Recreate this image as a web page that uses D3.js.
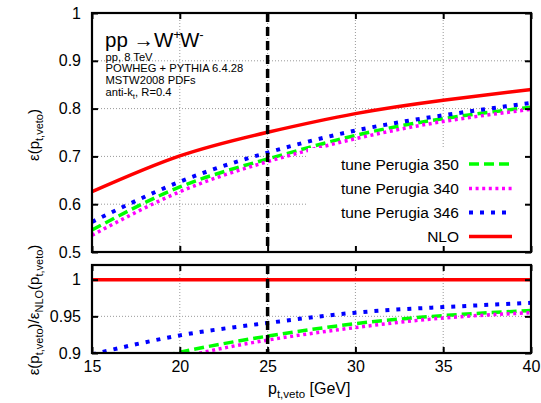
<!DOCTYPE html>
<html><head><meta charset="utf-8">
<script src="https://cdn.jsdelivr.net/npm/d3@7"></script>
<style>
body{margin:0;background:#fff;}
svg{display:block;font-family:"Liberation Sans",Arial,sans-serif;}
</style></head>
<body><svg id="c" width="541" height="403"></svg>
<script>
// ---- data ----
const ptVeto = [15, 20, 25, 30, 35, 40];
const effNLO = [0.626, 0.701, 0.7505, 0.7895, 0.8175, 0.840];
const eff346 = [0.563, 0.647, 0.708, 0.754, 0.786, 0.812];
const eff350 = [0.546, 0.636, 0.6945, 0.744, 0.779, 0.803];
const eff340 = [0.535, 0.626, 0.689, 0.737, 0.773, 0.7985];
const ratioNLO = [1, 1, 1, 1, 1, 1];
const ratio346 = [0.898, 0.924, 0.941, 0.955, 0.9626, 0.9685];
const ratio350 = [0.872, 0.901, 0.923, 0.940, 0.951, 0.958];
const ratio340 = [0.855, 0.893, 0.9176, 0.9347, 0.9477, 0.955];
const xTicks = [15, 20, 25, 30, 35, 40];
const yTicksTop = [0.5, 0.6, 0.7, 0.8, 0.9, 1];
const yTicksBot = [0.9, 0.95, 1];
const vetoCut = 25;
const seriesNames = ["tune Perugia 350", "tune Perugia 340", "tune Perugia 346", "NLO"];

const svg = d3.select("#c");
const L = 92, R = 531;
const x = d3.scaleLinear().domain([15, 40]).range([L, R]);
const yT = d3.scaleLinear().domain([0.5, 1]).range([252, 13]);
const yB = d3.scaleLinear().domain([0.9, 1.02]).range([353, 265]);

const styles = [
  {name: seriesNames[0], top: eff350, bot: ratio350, color: "#00ff00", w: 3.5, dash: "10,5"},
  {name: seriesNames[1], top: eff340, bot: ratio340, color: "#ff00ff", w: 3.5, dash: "3,3.6"},
  {name: seriesNames[2], top: eff346, bot: ratio346, color: "#0000ff", w: 4, dash: "4,7"},
  {name: seriesNames[3], top: effNLO, bot: ratioNLO, color: "#ff0000", w: 3.5, dash: null}
];

const defs = svg.append("defs");
defs.append("clipPath").attr("id","clipT").append("rect")
  .attr("x", L).attr("y", yT(1)).attr("width", R-L).attr("height", yT(0.5)-yT(1));
defs.append("clipPath").attr("id","clipB").append("rect")
  .attr("x", L).attr("y", yB(1.02)).attr("width", R-L).attr("height", yB(0.9)-yB(1.02));

function panel(y, yTicks, clip, key) {
  const g = svg.append("g");
  const y0 = y.range()[0], y1 = y.range()[1];
  const gx = xTicks.filter(t => t > 15 && t < 40);
  g.selectAll(null).data(gx).enter().append("line")
    .attr("x1", d => x(d)).attr("x2", d => x(d)).attr("y1", y0).attr("y2", y1)
    .attr("stroke", "#999").attr("stroke-width", 1).attr("stroke-dasharray", "1,2");
  const gy = yTicks.filter(t => y(t) < y0 - 1 && y(t) > y1 + 1);
  g.selectAll(null).data(gy).enter().append("line")
    .attr("x1", L).attr("x2", R).attr("y1", d => y(d)).attr("y2", d => y(d))
    .attr("stroke", "#999").attr("stroke-width", 1).attr("stroke-dasharray", "1,2");
  const cg = g.append("g").attr("clip-path", `url(#${clip})`);
  styles.forEach(s => {
    const line = d3.line().x((d, i) => x(ptVeto[i])).y(d => y(d)).curve(d3.curveNatural);
    cg.append("path").attr("d", line(s[key])).attr("fill", "none")
      .attr("stroke", s.color).attr("stroke-width", s.w)
      .attr("stroke-dasharray", s.dash);
  });
  return g;
}

panel(yT, yTicksTop, "clipT", "top");
panel(yB, yTicksBot, "clipB", "bot");

// legend (opaque box)
const legG = svg.append("g");
legG.append("rect").attr("x", 308).attr("y", 148).attr("width", R - 308).attr("height", 252 - 148).attr("fill", "#fff");
const legY = [164, 188.5, 212.5, 236.5];
styles.forEach((s, i) => {
  legG.append("text").attr("x", 459).attr("y", legY[i] + 5.5).attr("text-anchor", "end")
    .attr("font-size", 15.5).text(s.name);
  legG.append("line").attr("x1", 469).attr("x2", 512).attr("y1", legY[i]).attr("y2", legY[i])
    .attr("stroke", s.color).attr("stroke-width", s.w).attr("stroke-dasharray", s.dash);
});

// veto line
[[13, 252], [265, 353]].forEach(([a, b]) => {
  svg.append("line").attr("x1", x(vetoCut)).attr("x2", x(vetoCut)).attr("y1", a).attr("y2", b)
    .attr("stroke", "#000").attr("stroke-width", 3.5).attr("stroke-dasharray", "9,5");
});

// axes with inward ticks on all sides
function frame(y, yTicks, showX) {
  const y0 = y.range()[0], y1 = y.range()[1];
  const tk = 6;
  const g = svg.append("g");
  const fmt = d => d3.format("")(d);
  const gl = g.append("g").attr("transform", `translate(${L},0)`)
    .call(d3.axisLeft(y).tickValues(yTicks).tickSize(-tk).tickPadding(tk + 5).tickFormat(fmt));
  const gr = g.append("g").attr("transform", `translate(${R},0)`)
    .call(d3.axisRight(y).tickValues(yTicks).tickSize(-tk).tickFormat(""));
  const gb = g.append("g").attr("transform", `translate(0,${y0})`)
    .call(d3.axisBottom(x).tickValues(xTicks).tickSize(-tk).tickPadding(tk + 2).tickFormat(showX ? d3.format("d") : ""));
  const gt = g.append("g").attr("transform", `translate(0,${y1})`)
    .call(d3.axisTop(x).tickValues(xTicks).tickSize(-tk).tickFormat(""));
  [gl, gr, gb, gt].forEach(a => {
    a.select(".domain").remove();
    a.selectAll(".tick line").attr("stroke", "#000").attr("stroke-width", 2);
    a.selectAll(".tick text").attr("font-size", 16).attr("fill", "#000")
      .attr("font-family", "Liberation Sans, Arial, sans-serif");
  });
  g.append("rect").attr("x", L).attr("y", y1).attr("width", R - L).attr("height", y0 - y1)
    .attr("fill", "none").attr("stroke", "#000").attr("stroke-width", 2.2);
  return g;
}
frame(yT, yTicksTop, false);
frame(yB, yTicksBot, true);

// annotation
const ann = svg.append("g").attr("fill", "#000");
const t1 = ann.append("text").attr("x", 105).attr("y", 47).attr("font-size", 20.5);
t1.append("tspan").text("pp \u2192W");
t1.append("tspan").attr("font-size", 13).attr("dy", -8).text("+");
t1.append("tspan").attr("dy", 8).attr("dx", -1).text("W");
t1.append("tspan").attr("font-size", 13).attr("dy", -8).text("-");
const small = [["pp, 8 TeV", 60.5], ["POWHEG + PYTHIA 6.4.28", 72], ["MSTW2008 PDFs", 84], ["anti-k", 95.5]];
small.forEach(([s, yy], i) => {
  const t = ann.append("text").attr("x", 105.5).attr("y", yy).attr("font-size", 11.2).text(s);
  if (i === 3) {
    t.append("tspan").attr("font-size", 8).attr("dy", 3).text("t");
    t.append("tspan").attr("dy", -3).text(", R=0.4");
  }
});

// axis titles
const xt = svg.append("text").attr("x", 268).attr("y", 394).attr("font-size", 16);
xt.append("tspan").text("p");
xt.append("tspan").attr("font-size", 11.5).attr("dy", 4).text("t,veto");
xt.append("tspan").attr("dy", -4).text(" [GeV]");

const yt1 = svg.append("text").attr("transform", "translate(39,135) rotate(-90)")
  .attr("text-anchor", "middle").attr("font-size", 15);
yt1.append("tspan").text("\u03b5(p");
yt1.append("tspan").attr("font-size", 11).attr("dy", 4).text("t,veto");
yt1.append("tspan").attr("dy", -4).text(")");

const yt2 = svg.append("text").attr("transform", "translate(39,310) rotate(-90)")
  .attr("text-anchor", "middle").attr("font-size", 15);
yt2.append("tspan").text("\u03b5(p");
yt2.append("tspan").attr("font-size", 11).attr("dy", 4).text("t,veto");
yt2.append("tspan").attr("dy", -4).text(")/\u03b5");
yt2.append("tspan").attr("font-size", 11).attr("dy", 4).text("NLO");
yt2.append("tspan").attr("dy", -4).text("(p");
yt2.append("tspan").attr("font-size", 11).attr("dy", 4).text("t,veto");
yt2.append("tspan").attr("dy", -4).text(")");
</script></body></html>
